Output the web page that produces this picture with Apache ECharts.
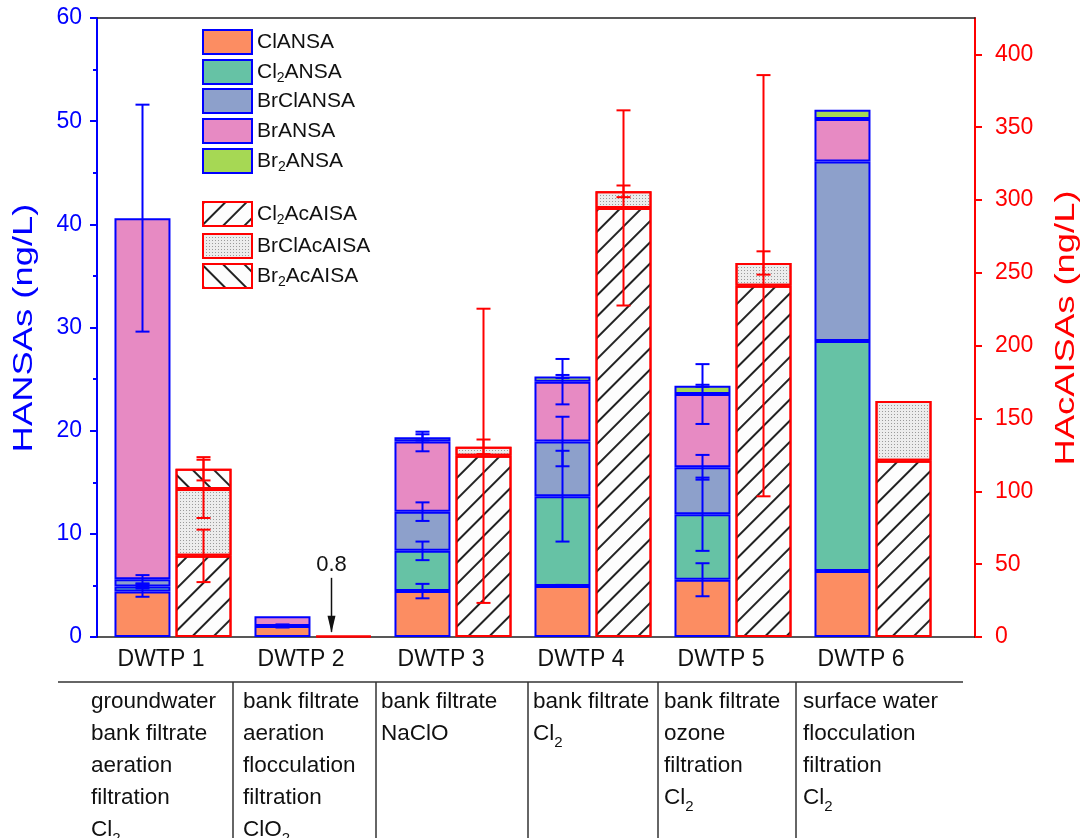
<!DOCTYPE html>
<html>
<head>
<meta charset="utf-8">
<script src="https://cdn.jsdelivr.net/npm/echarts@6.0.0/dist/echarts.min.js"></script>
<style>
  html, body { margin: 0; padding: 0; background: #fff; }
  #chart { width: 1083px; height: 838px; }
</style>
</head>
<body>
<div id="chart"></div>
<script>
// plants
var categories = ['DWTP 1', 'DWTP 2', 'DWTP 3', 'DWTP 4', 'DWTP 5', 'DWTP 6'];

// HANSAs, left axis (ng/L)
var clANSA   = [4.4, 1.07, 4.45, 4.95, 5.55, 6.4];
var cl2ANSA  = [0.5, null, 3.9, 8.7, 6.35, 22.3];
var brClANSA = [0.7, null, 3.8, 5.3, 4.55, 17.4];
var brANSA   = [35.0, 0.95, 6.8, 5.8, 7.1, 4.1];
var br2ANSA  = [null, null, 0.4, 0.5, 0.8, 0.9];

// error bars (±) of the HANSAs
var clANSAErr   = [0.5, 0.15, 0.7, 0.1, 1.6, null];
var cl2ANSAErr  = [0.2, null, 0.9, 4.4, 3.55, null];
var brClANSAErr = [0.4, null, 0.9, 2.4, 1.2, null];
var brANSAErr   = [11, null, 0.95, 2.2, 2.9, null];
var br2ANSAErr  = [null, null, 0.3, 0.15, 0.1, null];

// HAcAISAs, right axis (ng/L)
var cl2AcAISA  = [55.7, 0.8, 124.4, 294.6, 241.2, 121];
var brClAcAISA = [46, null, 6.2, 11.4, 15.6, 41];
var br2AcAISA  = [13.8, null, null, null, null, null];

var cl2AcAISAErr  = [18, null, 101, 67, 144.6, null];
var brClAcAISAErr = [20, null, 5, 4, 8, null];
var br2AcAISAErr  = [8, null, null, null, null, null];

// right axis ticks (axis runs a bit past 400)
var rightTicks = [0, 50, 100, 150, 200, 250, 300, 350, 400];

// treatment table under the chart
var treatments = [
    ['groundwater', 'bank filtrate', 'aeration', 'filtration', 'Cl{s|2}'],
    ['bank filtrate', 'aeration', 'flocculation', 'filtration', 'ClO{s|2}'],
    ['bank filtrate', 'NaClO'],
    ['bank filtrate', 'Cl{s|2}'],
    ['bank filtrate', 'ozone', 'filtration', 'Cl{s|2}'],
    ['surface water', 'flocculation', 'filtration', 'Cl{s|2}']
];

var FONT = 'Liberation Sans, Arial, sans-serif';
var BLUE = '#0000ff';
var RED = '#ff0000';
var BAR_W = 56;
var HALF = 30.5; // half distance between the two bar centres

var chart = echarts.init(document.getElementById('chart'));

function dash(arr) {
    return arr.map(function (v) { return v == null ? '-' : v; });
}

function subName(name) {
    return name.replace(/(Cl|Br)2/, '$1{s|2}');
}

// top of each stacked segment, used for the error bars
function stackTops(list) {
    var run = categories.map(function () { return 0; });
    return list.map(function (arr) {
        return arr.map(function (v, i) {
            if (v == null) return null;
            run[i] += v;
            return run[i];
        });
    });
}

function errSeries(tops, errs, yIndex, color, off) {
    var data = [];
    tops.forEach(function (t, s) {
        t.forEach(function (top, i) {
            if (top != null && errs[s][i] != null) data.push([i, top, errs[s][i]]);
        });
    });
    return {
        type: 'custom',
        xAxisIndex: 0,
        yAxisIndex: yIndex,
        z: 10,
        silent: true,
        encode: { x: 0, y: 1 },
        data: data,
        renderItem: function (params, api) {
            var x = api.value(0), c = api.value(1), e = api.value(2);
            var p0 = api.coord([x, c + e]);
            var p1 = api.coord([x, c - e]);
            var cx = p0[0] + off;
            var w = 7;
            var st = { stroke: color, lineWidth: 2 };
            return {
                type: 'group',
                children: [
                    { type: 'line', shape: { x1: cx, y1: p0[1], x2: cx, y2: p1[1] }, style: st },
                    { type: 'line', shape: { x1: cx - w, y1: p0[1], x2: cx + w, y2: p0[1] }, style: st },
                    { type: 'line', shape: { x1: cx - w, y1: p1[1], x2: cx + w, y2: p1[1] }, style: st }
                ]
            };
        }
    };
}

var blueNames = ['ClANSA', 'Cl2ANSA', 'BrClANSA', 'BrANSA', 'Br2ANSA'];
var blueVals = [clANSA, cl2ANSA, brClANSA, brANSA, br2ANSA];
var blueErrs = [clANSAErr, cl2ANSAErr, brClANSAErr, brANSAErr, br2ANSAErr];
var blueColors = ['#fc8d62', '#66c2a5', '#8da0cb', '#e78ac3', '#a6d854'];

var redNames = ['Cl2AcAISA', 'BrClAcAISA', 'Br2AcAISA'];
var redVals = [cl2AcAISA, brClAcAISA, br2AcAISA];
var redErrs = [cl2AcAISAErr, brClAcAISAErr, br2AcAISAErr];
var redDecals = [
    { symbol: 'rect', symbolSize: 1, dashArrayX: [1, 0], dashArrayY: [1.3, 13], rotation: -Math.PI / 4, color: '#222' },
    { symbol: 'rect', symbolSize: 1, dashArrayX: [1, 2], dashArrayY: [1, 2], color: '#9a9a9a' },
    { symbol: 'rect', symbolSize: 1, dashArrayX: [1, 0], dashArrayY: [1.3, 13], rotation: Math.PI / 4, color: '#222' }
];
var redFill = ['#fdfdfd', '#ececec', '#fdfdfd'];

var series = [];
blueNames.forEach(function (n, k) {
    series.push({
        name: n, type: 'bar', stack: 'hansa', xAxisIndex: 0, yAxisIndex: 0,
        barWidth: BAR_W, barGap: '9%',
        itemStyle: { color: blueColors[k], borderColor: BLUE, borderWidth: 2 },
        data: dash(blueVals[k])
    });
});
redNames.forEach(function (n, k) {
    series.push({
        name: n, type: 'bar', stack: 'hacaisa', xAxisIndex: 0, yAxisIndex: 1,
        barWidth: BAR_W, barGap: '9%',
        itemStyle: { color: redFill[k], borderColor: RED, borderWidth: 2, decal: redDecals[k] },
        data: dash(redVals[k])
    });
});
series.push(errSeries(stackTops(blueVals), blueErrs, 0, BLUE, -HALF));
series.push(errSeries(stackTops(redVals), redErrs, 1, RED, HALF));

var legendText = {
    fontFamily: FONT, fontSize: 21, color: '#111', lineHeight: 24,
    rich: { s: { fontFamily: FONT, fontSize: 14, verticalAlign: 'bottom', lineHeight: 26 } }
};
var legendBase = {
    orient: 'vertical', left: 202, padding: 0, icon: 'rect',
    itemWidth: 49, itemHeight: 24, selectedMode: false,
    textStyle: legendText, formatter: subName
};

var frameLine = { show: true, onZero: false, lineStyle: { color: '#222', width: 1.5 } };

var option = {
    animation: false,
    textStyle: { fontFamily: FONT },
    grid: [
        // bars: 6 bands of 140 px
        { left: 103, right: 140, top: 18, bottom: 201 },
        // frame of the whole plot
        { left: 97, right: 108, top: 18, bottom: 201 }
    ],
    legend: [
        Object.assign({ data: blueNames.slice(0, 2), top: 29, itemGap: 4 }, legendBase),
        Object.assign({ data: blueNames.slice(2), top: 88, itemGap: 4 }, legendBase),
        Object.assign({ data: redNames.slice(0, 1), top: 201, itemGap: 4 }, legendBase),
        Object.assign({ data: redNames.slice(1), top: 233, itemGap: 4 }, legendBase)
    ],
    xAxis: [
        {
            type: 'category', gridIndex: 0, data: categories,
            axisLine: { show: false }, axisTick: { show: false },
            axisLabel: {
                fontFamily: FONT, fontSize: 23, color: '#111', margin: 11,
                padding: [0, 24, 0, 0]
            }
        },
        {
            type: 'value', gridIndex: 1, position: 'bottom', min: 0, max: 1,
            axisLine: frameLine, axisTick: { show: false }, axisLabel: { show: false }, splitLine: { show: false }
        },
        {
            type: 'value', gridIndex: 1, position: 'top', min: 0, max: 1,
            axisLine: frameLine, axisTick: { show: false }, axisLabel: { show: false }, splitLine: { show: false }
        }
    ],
    yAxis: [
        {
            type: 'value', gridIndex: 0, min: 0, max: 60, interval: 10, position: 'left', offset: 6,
            axisLine: { show: true, onZero: false, lineStyle: { color: BLUE, width: 2 } },
            axisTick: { show: true, inside: false, length: 7, lineStyle: { color: BLUE, width: 2 } },
            minorTick: { show: true, splitNumber: 2, length: 4, lineStyle: { color: BLUE, width: 2 } },
            splitLine: { show: false },
            axisLabel: { color: BLUE, fontSize: 23, margin: 15, fontFamily: FONT }
        },
        {
            type: 'value', gridIndex: 0, min: 0, max: 425, position: 'right', offset: 32,
            axisLine: { show: true, onZero: false, lineStyle: { color: RED, width: 2 } },
            axisTick: { show: true, inside: false, length: 7, lineStyle: { color: RED, width: 2 }, customValues: rightTicks },
            splitLine: { show: false },
            axisLabel: { color: RED, fontSize: 23, margin: 20, fontFamily: FONT, customValues: rightTicks }
        },
        { type: 'value', gridIndex: 1, show: false, min: 0, max: 1 }
    ],
    series: series
};

chart.setOption(option);

// axis titles, table of treatment steps and the 0.8 note
var g = [];
g.push({
    type: 'text', x: 24, y: 328, rotation: Math.PI / 2, scaleX: 1.3,
    style: { text: 'HANSAs (ng/L)', fontFamily: FONT, fontSize: 28, fill: BLUE, align: 'center', verticalAlign: 'middle' }
});
g.push({
    type: 'text', x: 1066, y: 328, rotation: Math.PI / 2, scaleX: 1.3,
    style: { text: 'HAcAISAs (ng/L)', fontFamily: FONT, fontSize: 28, fill: RED, align: 'center', verticalAlign: 'middle' }
});

var lineTop = 682;
var colLines = [233, 376, 528, 658, 796];
var colText = [91, 243, 381, 533, 664, 803];
g.push({ type: 'line', shape: { x1: 58, y1: lineTop, x2: 963, y2: lineTop }, style: { stroke: '#333', lineWidth: 1.5 } });
colLines.forEach(function (x) {
    g.push({ type: 'line', shape: { x1: x, y1: lineTop, x2: x, y2: 838 }, style: { stroke: '#333', lineWidth: 1.5 } });
});
treatments.forEach(function (rows, i) {
    g.push({
        type: 'text', x: colText[i], y: lineTop + 4,
        style: {
            text: rows.join('\n'), fontFamily: FONT, fontSize: 22.5, fill: '#111', lineHeight: 32,
            rich: { s: { fontFamily: FONT, fontSize: 15, verticalAlign: 'bottom', lineHeight: 32 } }
        }
    });
});

var p = chart.convertToPixel({ xAxisIndex: 0, yAxisIndex: 1 }, [1, cl2AcAISA[1]]);
var ax = p[0] + HALF - 12;
var ay = p[1];
g.push({ type: 'line', shape: { x1: ax, y1: ay - 58, x2: ax, y2: ay - 4 }, style: { stroke: '#111', lineWidth: 1.5 } });
g.push({ type: 'polygon', shape: { points: [[ax - 4, ay - 20], [ax, ay - 3], [ax + 4, ay - 20]] }, style: { fill: '#111' } });
g.push({
    type: 'text', x: ax, y: ay - 71,
    style: { text: '0.8', fontFamily: FONT, fontSize: 22, fill: '#111', align: 'center', verticalAlign: 'middle' }
});

chart.setOption({ graphic: g });
</script>
</body>
</html>
